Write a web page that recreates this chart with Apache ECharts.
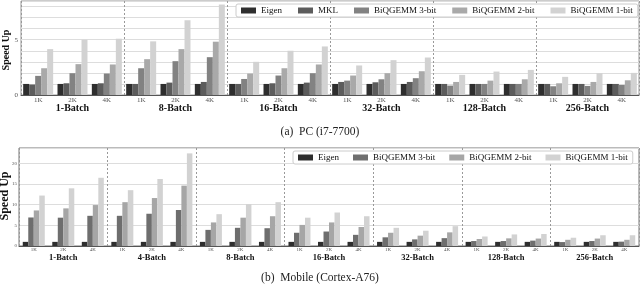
<!DOCTYPE html>
<html>
<head>
<meta charset="utf-8">
<script src="https://cdn.jsdelivr.net/npm/echarts@6/dist/echarts.min.js"></script>
<style>html,body{margin:0;padding:0;background:#fff}#c{width:640px;height:285px}</style>
</head>
<body>
<div id="c"></div>
<script>
const sizes = ['1K', '2K', '4K'];
const pcBatches = ['1-Batch', '8-Batch', '16-Batch', '32-Batch', '128-Batch', '256-Batch'];
const mobileBatches = ['1-Batch', '4-Batch', '8-Batch', '16-Batch', '32-Batch', '128-Batch', '256-Batch'];

const pcEigen = [1, 1, 1, 1, 1, 1, 1, 1, 1, 1, 1, 1, 1, 1, 1, 1, 1, 1];
const pcMKL = [0.95, 1.06, 1.06, 1.0, 1.12, 1.18, 1.0, 1.06, 1.12, 1.18, 1.15, 1.18, 1, 1, 1, 1, 1, 1];
const pc3bit = [1.73, 1.97, 1.94, 2.42, 3.06, 3.42, 1.45, 1.76, 1.97, 1.3, 1.42, 1.52, 0.85, 1.0, 1.0, 0.79, 0.82, 0.91];
const pc2bit = [2.42, 2.79, 2.76, 3.24, 4.15, 4.82, 1.94, 2.42, 2.76, 1.76, 1.97, 2.15, 1.18, 1.3, 1.42, 1.06, 1.18, 1.33];
const pc1bit = [4.15, 5.0, 5.09, 4.85, 6.76, 8.18, 3.0, 4.0, 4.39, 2.67, 3.15, 3.39, 1.82, 2.12, 2.27, 1.64, 1.97, 2.0];

const mobEigen = [1, 1, 1, 1, 1, 1, 1, 1, 1, 1, 1, 1, 1, 1, 1, 1, 1, 1, 1, 1, 1];
const mob3bit = [6.9, 6.85, 7.3, 7.3, 7.8, 8.7, 3.9, 4.4, 4.3, 3.2, 3.5, 2.7, 2.1, 1.6, 1.9, 1.2, 1.2, 1.3, 0.95, 1.2, 1.05];
const mob2bit = [8.6, 9.1, 9.9, 10.6, 11.6, 14.6, 5.7, 6.85, 7.2, 5.1, 5.7, 4.6, 3.2, 2.5, 3.3, 1.7, 1.85, 1.8, 1.5, 1.8, 1.5];
const mob1bit = [12.2, 13.95, 16.5, 13.5, 16.2, 22.4, 7.7, 10.1, 10.6, 6.85, 8.1, 7.2, 4.4, 3.7, 4.8, 2.3, 2.8, 2.9, 2.0, 2.6, 2.6];

const pcNames = ['Eigen', 'MKL', 'BiQGEMM 3-bit', 'BiQGEMM 2-bit', 'BiQGEMM 1-bit'];
const pcColors = ['#2e2e2e', '#5c5c5c', '#828282', '#a9a9a9', '#d2d2d2'];
const mobNames = ['Eigen', 'BiQGEMM 3-bit', 'BiQGEMM 2-bit', 'BiQGEMM 1-bit'];
const mobColors = ['#2e2e2e', '#6e6e6e', '#a6a6a6', '#d2d2d2'];
const yTitle = 'Speed Up';

const FONT = 'Liberation Serif';
const pcCats = [];
pcBatches.forEach(() => sizes.forEach(s => pcCats.push(s)));
const mobCats = [];
mobileBatches.forEach(() => sizes.forEach(s => mobCats.push(s)));

const pcData = [pcEigen, pcMKL, pc3bit, pc2bit, pc1bit];
const mobData = [mobEigen, mob3bit, mob2bit, mob1bit];

const series = [];
pcData.forEach((d, i) => series.push({
  type: 'bar', name: pcNames[i], xAxisIndex: 0, yAxisIndex: 0, data: d,
  barWidth: 6, barGap: '0%', itemStyle: { color: pcColors[i] }, silent: true
}));
mobData.forEach((d, i) => series.push({
  type: 'bar', name: mobNames[i], xAxisIndex: 2, yAxisIndex: 1, data: d,
  barWidth: 5.5, barGap: '0%', itemStyle: { color: mobColors[i] }, silent: true
}));

function sizeAxis(grid, cats, fs, margin) {
  return {
    type: 'category', gridIndex: grid, data: cats,
    axisLine: { show: true, lineStyle: { color: '#555', width: 1 } },
    axisTick: { show: false },
    axisLabel: { interval: 0, fontSize: fs, color: '#555', fontFamily: FONT, margin: margin },
    splitLine: { show: false }
  };
}
function batchAxis(grid, cats, fs, margin) {
  return {
    type: 'category', gridIndex: grid, data: cats, position: 'bottom',
    axisLine: { show: false }, axisTick: { show: false },
    axisLabel: { interval: 0, fontSize: fs, fontWeight: 'bold', color: '#111', fontFamily: FONT, margin: margin },
    splitLine: { show: true, interval: 0, lineStyle: { color: '#999', type: [2, 2], width: 1 } }
  };
}

function legendOf(names, colors, left, top, gap) {
  return {
    data: names.map((n, i) => ({ name: n, itemStyle: { color: colors[i] } })),
    left: left, top: top, width: 420, orient: 'horizontal',
    padding: [2, 5], itemWidth: 15, itemHeight: 6, itemGap: gap,
    backgroundColor: '#fff', borderColor: '#ccc', borderWidth: 1, borderRadius: 2,
    icon: 'rect', selectedMode: false,
    textStyle: { fontFamily: FONT, fontSize: 9, color: '#111' }
  };
}

function yName(x, y, fs) {
  return {
    type: 'text', x: x, y: y, rotation: Math.PI / 2, silent: true,
    style: { text: yTitle, font: 'bold ' + fs + 'px "' + FONT + '"', fill: '#111', align: 'center', verticalAlign: 'middle' }
  };
}

const option = {
  animation: false,
  backgroundColor: '#fff',
  title: [
    { text: '(a)  PC (i7-7700)', left: 'center', top: 121, textStyle: { fontFamily: FONT, fontWeight: 'normal', fontSize: 11.5, color: '#222' } },
    { text: '(b)  Mobile (Cortex-A76)', left: 'center', top: 267, textStyle: { fontFamily: FONT, fontWeight: 'normal', fontSize: 11.5, color: '#222' } }
  ],
  graphic: [yName(6, 50, 10), yName(5, 196, 12)],
  grid: [
    { left: 21, right: 1, top: 1, height: 94, show: true, borderColor: '#999', borderWidth: 1 },
    { left: 19, right: 1, top: 148, height: 98, show: true, borderColor: '#777', borderWidth: 1 }
  ],
  legend: [
    legendOf(pcNames, pcColors, 236, 4, 16),
    legendOf(mobNames, mobColors, 293, 151, 14)
  ],
  xAxis: [
    sizeAxis(0, pcCats, 7, 2),
    batchAxis(0, pcBatches, 10, 8),
    sizeAxis(1, mobCats, 5, 1),
    batchAxis(1, mobileBatches, 8.5, 7)
  ],
  yAxis: [
    {
      type: 'value', gridIndex: 0, min: 0, max: 8.5, interval: 1,
      axisLine: { show: false }, axisTick: { show: false },
      axisLabel: { fontSize: 7, color: '#555', fontFamily: FONT, margin: 3, formatter: v => (v % 5 === 0 ? String(v) : '') },
      splitLine: { show: true, lineStyle: { color: '#ddd', width: 1 } }
    },
    {
      type: 'value', gridIndex: 1, min: 0, max: 23.7, interval: 5,
      axisLine: { show: false }, axisTick: { show: false },
      axisLabel: { fontSize: 5, color: '#555', fontFamily: FONT, margin: 2, formatter: v => (v % 5 === 0 ? String(v) : '') },
      splitLine: { show: true, lineStyle: { color: '#ddd', width: 1 } }
    }
  ],
  series: series
};

const chart = echarts.init(document.getElementById('c'), null, { renderer: 'canvas' });
chart.setOption(option);
</script>
</body>
</html>
